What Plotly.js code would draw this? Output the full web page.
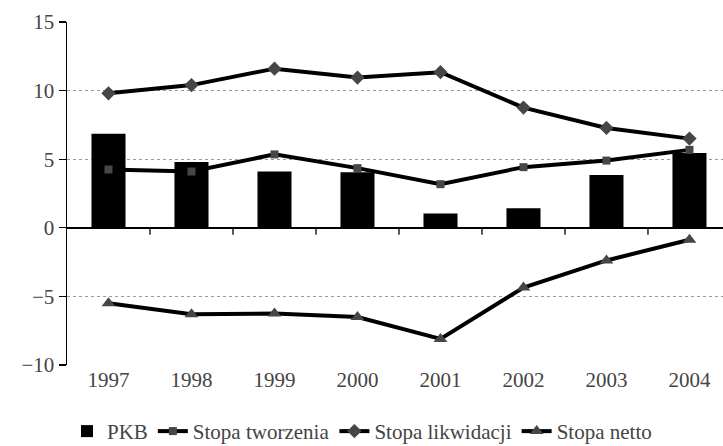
<!DOCTYPE html>
<html>
<head>
<meta charset="utf-8">
<script src="https://cdn.plot.ly/plotly-3.0.1.min.js"></script>
<style>html,body{margin:0;padding:0;background:#fff;}#chart{width:723px;height:446px;}</style>
</head>
<body>
<div id="chart"></div>
<script>
var years = ['1997','1998','1999','2000','2001','2002','2003','2004'];
var pkb = [6.85, 4.8, 4.1, 4.05, 1.05, 1.43, 3.85, 5.45];
var stopaTworzenia = [4.25, 4.1, 5.35, 4.35, 3.18, 4.42, 4.9, 5.68];
var stopaLikwidacji = [9.8, 10.4, 11.6, 10.95, 11.34, 8.76, 7.28, 6.5];
var stopaNetto = [-5.5, -6.3, -6.25, -6.5, -8.1, -4.35, -2.38, -0.87];
var seriesNames = ['PKB', 'Stopa tworzenia', 'Stopa likwidacji', 'Stopa netto'];
var yTickVals = [-10, -5, 0, 5, 10, 15];

var markerGray = '#464646';
var FAM = 'Liberation Serif';

var traces = [
  {type: 'bar', name: seriesNames[0], x: years, y: pkb, width: 0.41,
   marker: {color: '#000000', line: {width: 0}}},
  {type: 'scatter', mode: 'lines+markers', name: seriesNames[1], x: years, y: stopaTworzenia,
   line: {color: '#000000', width: 4}, marker: {symbol: 'square', size: 8, color: markerGray}},
  {type: 'scatter', mode: 'lines+markers', name: seriesNames[2], x: years, y: stopaLikwidacji,
   line: {color: '#000000', width: 4}, marker: {symbol: 'diamond', size: 11, color: markerGray}},
  {type: 'scatter', mode: 'lines+markers', name: seriesNames[3], x: years, y: stopaNetto,
   line: {color: '#000000', width: 4}, marker: {symbol: 'triangle-up', size: 12, color: markerGray}}
];

// small ticks hanging below the zero line at category boundaries
var boundaryShapes = years.slice(1).map(function(_, i) {
  return {type: 'line', xref: 'x', yref: 'y', ysizemode: 'pixel', yanchor: 0,
          x0: i + 0.5, x1: i + 0.5, y0: 0, y1: -7, line: {color: '#000', width: 1.3}, layer: 'above'};
});

var layout = {
  width: 723, height: 446,
  margin: {l: 67, r: 0, t: 22, b: 81, autoexpand: false},
  paper_bgcolor: '#ffffff', plot_bgcolor: '#ffffff',
  font: {family: FAM, size: 21},
  showlegend: true,
  legend: {orientation: 'h', x: 0.0, y: -0.134, xanchor: 'left', yanchor: 'top',
           font: {family: FAM, size: 21}},
  shapes: boundaryShapes,
  xaxis: {type: 'category', categoryarray: years, range: [-0.5, 7.404], showgrid: false, zeroline: false,
          showline: false, ticks: '', tickfont: {family: FAM, size: 21}},
  yaxis: {range: [-10, 15], tickvals: yTickVals, ticksuffix: '%', showgrid: true,
          gridcolor: '#9a9a9a', griddash: 'dot', gridwidth: 1,
          zeroline: true, zerolinecolor: '#000', zerolinewidth: 1.5,
          showline: true, linecolor: '#000', linewidth: 1.5,
          ticks: 'outside', ticklen: 7, tickwidth: 1.3, tickcolor: '#000', tickfont: {family: FAM, size: 21}}
};

Plotly.newPlot('chart', traces, layout, {staticPlot: true});
</script>
</body>
</html>
